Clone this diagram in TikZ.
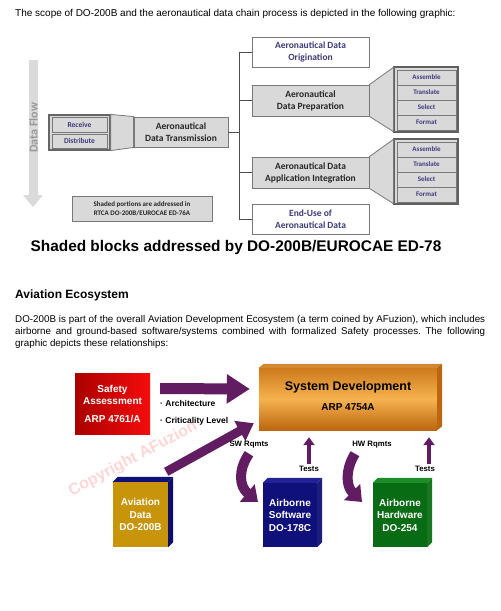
\documentclass[tikz,border=0pt]{standalone}
\usepackage{fontspec}
\setmainfont{Liberation Sans}
\newfontfamily\carlito{Carlito}
\usetikzlibrary{arrows.meta}
\frenchspacing
\definecolor{boxgray}  {RGB}{217, 217, 217}
\definecolor{edgegray} {RGB}{120, 120, 120}
\definecolor{inkblue}  {RGB}{ 62,  58, 125}
\definecolor{flowgray} {RGB}{218, 218, 218}
\definecolor{plum}     {RGB}{ 98,  28,  98}
\definecolor{redlo}    {RGB}{170,   0,   0}
\definecolor{redhi}    {RGB}{245,  12,  12}
\definecolor{orgedge}  {RGB}{205, 122,  28}
\definecolor{orgmid}   {RGB}{246, 178,  80}
\definecolor{orgside}  {RGB}{188, 102,  14}
\definecolor{navy}     {RGB}{ 16,  16, 122}
\definecolor{navyside} {RGB}{ 34,  34, 150}
\definecolor{leaf}     {RGB}{  8, 108,  20}
\definecolor{leafside} {RGB}{ 30, 140,  40}
\definecolor{goldbox}  {RGB}{200, 148,  10}

\begin{document}
\begin{tikzpicture}[x=1pt, y=-1pt, >=Stealth,
  every node/.style={inner sep=0pt},
  graybox/.style={draw=edgegray, fill=boxgray, line width=0.9pt, align=center,
    font=\carlito\bfseries\fontsize{9.5}{12}\selectfont, text=black!85},
  whitebox/.style={graybox, fill=white, text=inkblue},
  subrow/.style={draw=edgegray, fill=boxgray, line width=0.6pt,
    minimum width=59pt, minimum height=15pt,
    font=\carlito\bfseries\fontsize{7}{8}\selectfont, text=inkblue},
  subframe/.style={draw=edgegray!80!black, fill=boxgray, line width=1.2pt,
    minimum width=64pt, minimum height=65pt},
  trap/.style={draw=edgegray, fill=boxgray, line width=0.8pt},
  tree/.style={draw=black!70, line width=0.9pt},
  whitelbl/.style={text=white, align=center,
    font=\bfseries\fontsize{10}{12.5}\selectfont},
  smalllbl/.style={font=\bfseries\fontsize{7.8}{9}\selectfont},
  fatarrow/.style={draw=plum, line width=11pt, -{Triangle[length=23pt, width=28pt]}},
  diagarrow/.style={draw=plum, line width=9pt, -{Triangle[length=16pt, width=22pt]}},
  bendarrow/.style={draw=plum, line width=10pt, -{Triangle[length=14pt, width=22pt]}},
  testarrow/.style={draw=plum, line width=4pt, -{Triangle[length=8pt, width=11pt]}},
]
\useasboundingbox (0,0) rectangle (501,611);
\fill[white] (0,0) rectangle (501,611);

% ── intro line ───────────────────────────────────────────────
\node[anchor=west, font=\fontsize{10}{12}\selectfont] (intro) at (15,14)
  {The scope of DO-200B and the aeronautical data chain process is depicted in the following graphic:};

% ── data flow arrow ──────────────────────────────────────────
\fill[flowgray] (29,60) -- (38,60) -- (38,195) -- (43,195) -- (33,207)
  -- (23,195) -- (29,195) -- cycle;
\node[rotate=90, text=black!40, font=\carlito\bfseries\fontsize{12}{12}\selectfont]
  (flow) at (33.5,128) {Data Flow};

% ── receive / distribute ─────────────────────────────────────
\node[draw=black!60, fill=boxgray, line width=1.2pt,
  minimum width=61pt, minimum height=35pt] (recv) at (79.5,132.5) {};
\node[subrow, minimum width=55pt, minimum height=15pt, font=\carlito\bfseries\fontsize{7.5}{8}\selectfont]
  (receive) at (79.5,125) {Receive};
\node[subrow, minimum width=55pt, minimum height=14pt, font=\carlito\bfseries\fontsize{7.5}{8}\selectfont]
  (distrib) at (79.5,141) {Distribute};

% ── main chain ───────────────────────────────────────────────
\node[graybox, minimum width=94pt, minimum height=30pt] (trans) at (181,132)
  {Aeronautical\\Data Transmission};
\draw[trap] (recv.north east) -- (trans.north west) -- (trans.south west)
  -- (recv.south east) -- cycle;

\node[whitebox, minimum width=117pt, minimum height=30pt] (orig) at (310.5,52)
  {Aeronautical Data\\Origination};
\node[graybox, minimum width=117pt, minimum height=31pt] (prep) at (310.5,100.5)
  {Aeronautical\\Data Preparation};
\node[graybox, minimum width=117pt, minimum height=31pt] (integ) at (310.5,172.5)
  {Aeronautical Data\\Application Integration};
\node[whitebox, minimum width=117pt, minimum height=30pt] (enduse) at (310.5,219)
  {End-Use of\\Aeronautical Data};

% tree
\coordinate (trunk) at (239,52);
\draw[tree] (orig.west) -- (orig.west -| trunk) -- (enduse.west -| trunk) -- (enduse.west);
\draw[tree] (prep.west) -- (prep.west -| trunk);
\draw[tree] (integ.west) -- (integ.west -| trunk);
\draw[tree] (trans.east) -- (trans.east -| trunk);

% ── sub steps ────────────────────────────────────────────────
\node[subframe] (sub1) at (426,99.5) {};
\node[subframe] (sub2) at (426,171.5) {};
\draw[trap] (prep.north east) -- ([yshift=-1pt]sub1.north west)
  -- ([yshift=1pt]sub1.south west) -- (prep.south east) -- cycle;
\draw[trap] (integ.north east) -- ([yshift=-1pt]sub2.north west)
  -- ([yshift=1pt]sub2.south west) -- (integ.south east) -- cycle;
\foreach \lbl [count=\i] in {Assemble, Translate, Select, Format} {
  \node[subrow] (pa\i) at (426.5, 62.5+15*\i) {\lbl};
  \node[subrow] (ia\i) at (426.5, 134.5+15*\i) {\lbl};
}

% note
\node[graybox, minimum width=140pt, minimum height=25pt,
  font=\carlito\bfseries\fontsize{7}{9}\selectfont] (note) at (142,208.5)
  {Shaded portions are addressed in\\RTCA DO-200B/EUROCAE ED-76A};

% ── headings and text ────────────────────────────────────────
\node[font=\bfseries\fontsize{15.4}{18}\selectfont] (title) at (236,248)
  {Shaded blocks addressed by DO-200B/EUROCAE ED-78};
\node[anchor=west, font=\bfseries\fontsize{12}{14}\selectfont] (eco) at (15,295)
  {Aviation Ecosystem};
\node[anchor=north west, text width=470pt, align=justify,
  font=\fontsize{9.8}{11.6}\selectfont] (para) at (15,315.5)
  {DO-200B is part of the overall Aviation Development Ecosystem (a term coined by AFuzion), which includes\linebreak
   airborne and ground-based software/systems combined with formalized Safety processes. The following\linebreak
   graphic depicts these relationships:};

% ── ecosystem ────────────────────────────────────────────────
\node[rotate=28, text=red!16, font=\bfseries\fontsize{16}{16}\selectfont]
  (mark) at (133,459) {Copyright AFuzion};

\node[left color=redlo, right color=redhi, minimum width=75pt, minimum height=61pt]
  (safety) at (112.5,403.5) {};
\node[whitelbl] (safetyt) at (safety) {Safety\\Assessment\\[5pt]ARP 4761/A};

\node[top color=orgedge, bottom color=orgside, middle color=orgmid,
  minimum width=178pt, minimum height=62pt] (sysdev) at (348,399) {};
\fill[orgedge!90!white] (sysdev.north west) -- ++(5,-4) -- ([shift={(5,-4)}]sysdev.north east)
  -- (sysdev.north east) -- cycle;
\fill[orgside] (sysdev.north east) -- ++(5,-4) -- ([shift={(5,-4)}]sysdev.south east)
  -- (sysdev.south east) -- cycle;
\node[align=center, font=\bfseries\fontsize{12.5}{14}\selectfont] (sysdevt) at (348,396)
  {System Development\\[6pt]{\fontsize{10}{12}\selectfont ARP 4754A}};

% 3d boxes
\node[fill=goldbox, minimum width=55pt, minimum height=65pt] (aviation) at (140.5,514.5) {};
\node[fill=navy, minimum width=54pt, minimum height=64pt] (software) at (290,515) {};
\node[fill=leaf, minimum width=54pt, minimum height=64pt] (hardware) at (400,515) {};
\foreach \b/\c in {aviation/navy, software/navyside, hardware/leafside} {
  \fill[\c] (\b.north west) -- ++(5,-5) -- ([shift={(5,-5)}]\b.north east)
    -- (\b.north east) -- cycle;
  \fill[\c!85!black] (\b.north east) -- ++(5,-5) -- ([shift={(5,-5)}]\b.south east)
    -- (\b.south east) -- cycle;
}
\node[whitelbl] (aviationt) at (aviation) {Aviation\\Data\\DO-200B};
\node[whitelbl] (softwaret) at (software) {Airborne\\Software\\DO-178C};
\node[whitelbl] (hardwaret) at (hardware) {Airborne\\Hardware\\DO-254};

% arrows
\draw[fatarrow] ([shift={(10,-15)}]safety.east) -- ([shift={(-9,-10)}]sysdev.west);
\node[anchor=west, smalllbl, font=\bfseries\fontsize{8.5}{10}\selectfont] (arch) at (160,403)
  {· Architecture};
\node[anchor=west, smalllbl, font=\bfseries\fontsize{8.5}{10}\selectfont] (crit) at (160,421)
  {· Criticality Level};
\draw[diagarrow] ([shift={(-2,-10)}]aviation.north east) -- ([shift={(-5,-7)}]sysdev.south west);

\node[smalllbl] (swlbl) at (249,445) {SW Rqmts};
\node[smalllbl] (hwlbl) at (372,445) {HW Rqmts};
\node[smalllbl] (tests1) at (309,469) {Tests};
\node[smalllbl] (tests2) at (425,469) {Tests};
\draw[bendarrow] ([yshift=-5pt]swlbl.south) .. controls (238,470) and (239,486) .. (258,502);
\draw[bendarrow] ([shift={(-17,5)}]hwlbl.south) .. controls (345,470) and (346,486) .. (362,502);
\draw[testarrow] ([yshift=2pt]tests1.north) -- ([yshift=-7pt]tests1.north |- sysdev.south);
\draw[testarrow] ([shift={(4,-2)}]tests2.north) -- ([shift={(4,7)}]tests2.north |- sysdev.south);

\end{tikzpicture}
\end{document}
